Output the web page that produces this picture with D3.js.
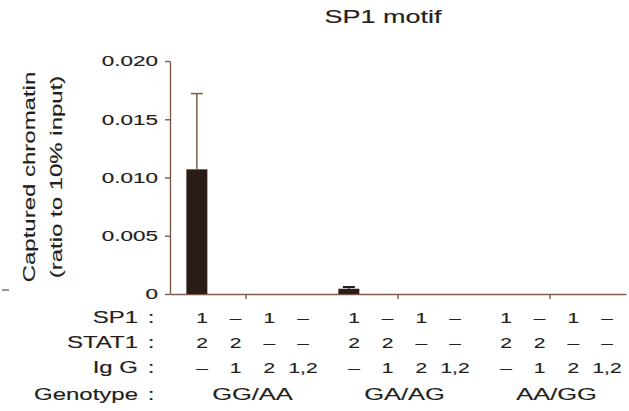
<!DOCTYPE html>
<html>
<head>
<meta charset="utf-8">
<script src="https://cdn.jsdelivr.net/npm/d3@7"></script>
<style>
  body { margin: 0; background: #fff; }
  text { font-family: "Liberation Sans", Arial, sans-serif; fill: #231f20; stroke: #231f20; stroke-width: 0.15px; }
</style>
</head>
<body>
<script>
// data
var genotypes = ["GG/AA", "GA/AG", "AA/GG"];
var columns = [0, 1, 2, 3];
var sp1Row = ["1", "\u2013", "1", "\u2013"];
var stat1Row = ["2", "2", "\u2013", "\u2013"];
var iggRow = ["\u2013", "1", "2", "1,2"];
var rowNames = ["SP1", "STAT1", "Ig G", "Genotype"];
var meanValues = [0.0107, 0, 0, 0,  0.00045, 0, 0, 0,  0, 0, 0, 0];
var errValues  = [0.0065, 0, 0, 0,  0.00015, 0, 0, 0,  0, 0, 0, 0];
var yTicks = [0, 0.005, 0.010, 0.015, 0.020];

var W = 629, H = 411;
var stretch = 1.5;          // the source font is much wider than Arial
var axisColor = "#7d5a4b";
var barColor = "#2a1c16";
var rowY = [323, 348, 373, 400];

var svg = d3.select("body").append("svg")
    .attr("width", W).attr("height", H);

var y = d3.scaleLinear().domain([0, 0.02]).range([294, 61]);
var xGroup = d3.scaleBand().domain(genotypes).range([170, 626]);
var xCol = d3.scaleBand().domain(columns).range([0, xGroup.bandwidth()])
    .paddingInner(0.36).paddingOuter(0.5);
var xLabel = d3.scalePoint().domain(columns).range([32, 133]);

var bars = [];
genotypes.forEach(function (g, gi) {
  columns.forEach(function (c) {
    var k = gi * columns.length + c;
    bars.push({ group: g, col: c, mean: meanValues[k], err: errValues[k] });
  });
});

// stretched text helper
function sText(sel, x, yy, size, anchor, rot) {
  return sel.append("text")
    .attr("transform", "translate(" + x + "," + yy + ")" + (rot ? " rotate(" + rot + ")" : "") + " scale(" + stretch + ",1)")
    .attr("font-size", size)
    .attr("text-anchor", anchor);
}

// title
sText(svg, 383, 23, "18px", "middle").text("SP1 motif");

// y axis title
sText(svg, 35, 177, "16px", "middle", -90).text("Captured chromatin");
sText(svg, 62, 177, "16px", "middle", -90).text("(ratio to 10% input)");

// stray dash at far left of the crop
svg.append("line").attr("x1", 2).attr("x2", 9).attr("y1", 290).attr("y2", 290)
  .attr("stroke", "#555").attr("stroke-width", 1.2);

// y axis
var yAxis = svg.append("g")
  .attr("transform", "translate(170,0)")
  .call(d3.axisLeft(y).tickValues(yTicks).tickSize(5).tickSizeOuter(0)
    .tickFormat(function (v) { return v === 0 ? "0" : d3.format(".3f")(v); }));
yAxis.selectAll("path, line").attr("stroke", axisColor).attr("stroke-width", 1.4);
yAxis.selectAll("text")
  .attr("font-size", "15px")
  .attr("font-family", "Liberation Sans, Arial, sans-serif")
  .attr("fill", "#231f20")
  .attr("x", -12 / stretch)
  .attr("transform", "scale(" + stretch + ",1)");

// x axis with ticks at group centres
var xAxis = svg.append("g")
  .attr("transform", "translate(0," + y(0) + ")")
  .call(d3.axisBottom(xGroup).tickSize(5).tickSizeOuter(0).tickFormat(""));
xAxis.selectAll("path, line").attr("stroke", axisColor).attr("stroke-width", 1.4);

// bars
svg.selectAll(".bar")
  .data(bars.filter(function (d) { return d.mean > 0; }))
  .enter().append("rect")
    .attr("class", "bar")
    .attr("x", function (d) { return xGroup(d.group) + xCol(d.col); })
    .attr("width", xCol.bandwidth())
    .attr("y", function (d) { return y(d.mean); })
    .attr("height", function (d) { return y(0) - y(d.mean); })
    .attr("fill", barColor);

// error bars
function cx(d) { return xGroup(d.group) + xCol(d.col) + xCol.bandwidth() / 2; }
var eb = svg.selectAll(".err")
  .data(bars.filter(function (d) { return d.err > 0; }))
  .enter().append("g").attr("class", "err");
eb.append("line")
  .attr("x1", cx).attr("x2", cx)
  .attr("y1", function (d) { return y(d.mean); })
  .attr("y2", function (d) { return y(d.mean + d.err); })
  .attr("stroke", function (d) { return d.err < 0.001 ? barColor : axisColor; })
  .attr("stroke-width", 1.5);
eb.append("line")
  .attr("x1", function (d) { return cx(d) - 6; })
  .attr("x2", function (d) { return cx(d) + 6; })
  .attr("y1", function (d) { return y(d.mean + d.err); })
  .attr("y2", function (d) { return y(d.mean + d.err); })
  .attr("stroke", function (d) { return d.err < 0.001 ? barColor : axisColor; })
  .attr("stroke-width", function (d) { return d.err < 0.001 ? 2 : 1.5; });

// condition table under the axis
var rowLabels = svg.append("g");
rowNames.forEach(function (name, i) {
  sText(rowLabels, 138, rowY[i], "16px", "end").text(name);
  sText(rowLabels, 151, rowY[i], "16px", "middle").text(":");
});

[sp1Row, stat1Row, iggRow].forEach(function (row, ri) {
  genotypes.forEach(function (g) {
    columns.forEach(function (c) {
      sText(svg, xGroup(g) + xLabel(c), rowY[ri], "14px", "middle").text(row[c]);
    });
  });
});

genotypes.forEach(function (g) {
  sText(svg, xGroup(g) + (xLabel(0) + xLabel(3)) / 2, rowY[3], "17px", "middle").text(g);
});
</script>
</body>
</html>
